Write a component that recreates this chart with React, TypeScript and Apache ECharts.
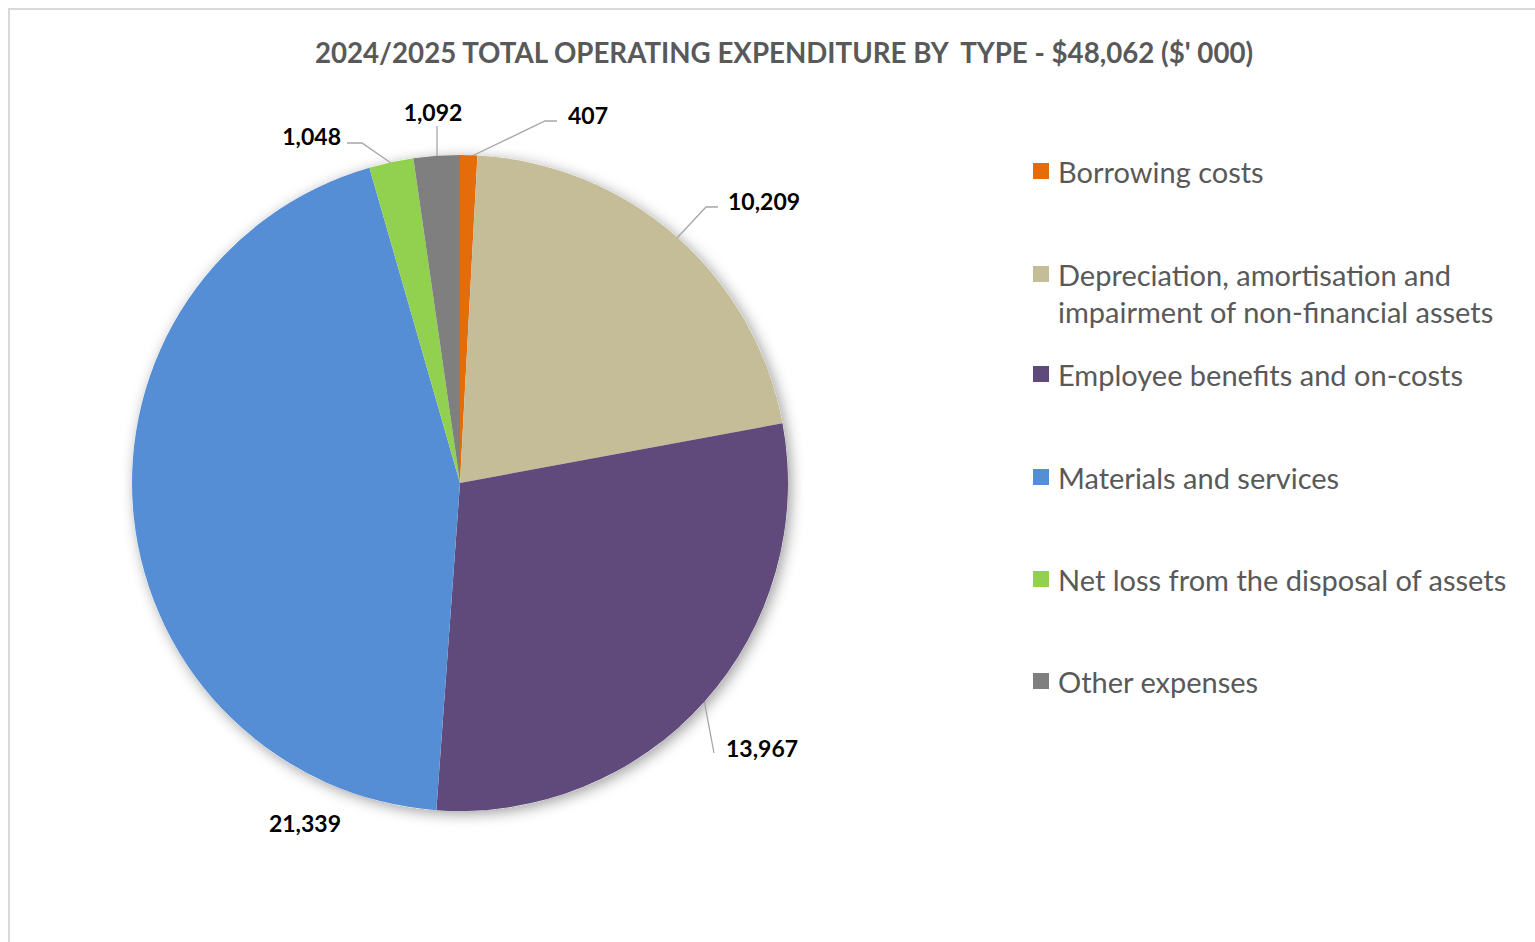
import React, { useEffect, useRef } from "react";
import * as echarts from "echarts";

const categories = [
  "Borrowing costs",
  "Depreciation, amortisation and impairment of non-financial assets",
  "Employee benefits and on-costs",
  "Materials and services",
  "Net loss from the disposal of assets",
  "Other expenses",
];
const legendLabels = [
  "Borrowing costs",
  "Depreciation, amortisation and\nimpairment of non-financial assets",
  "Employee benefits and on-costs",
  "Materials and services",
  "Net loss from the disposal of assets",
  "Other expenses",
];
const values = [407, 10209, 13967, 21339, 1048, 1092];
const colors = ["#E46C0A", "#C4BD97", "#604A7B", "#558ED5", "#92D050", "#7F7F7F"];
const titleText = "2024/2025 TOTAL OPERATING EXPENDITURE BY  TYPE - $48,062 ($' 000)";

// label layout (pixel positions of labels and leader lines)
const labelPos: [number, number, string][] = [
  [568, 115, "left"],
  [728, 201, "left"],
  [726, 748, "left"],
  [341, 823, "right"],
  [341, 136, "right"],
  [433, 112, "center"],
];
const linePts: number[][][] = [
  [[470, 157], [545, 121], [557, 121]],
  [[677, 238], [706, 207], [718, 207]],
  [[704, 700], [714, 753], [714, 753]],
  [],
  [[391, 163], [362, 143], [347, 143]],
  [[437, 157], [437, 126], [437, 126]],
];
const legendCenters = [171, 274, 374, 477, 579, 681];

export default function App() {
  const ref = useRef<HTMLDivElement>(null);
  useEffect(() => {
    if (!ref.current) return;
    const chart = echarts.init(ref.current, null, { renderer: "svg" });
    const total = values.reduce((a, b) => a + b, 0);
    const LH = 37;
    const legends = categories.map((name, i) => {
      const twoLine = legendLabels[i].includes("\n");
      return {
        orient: "vertical",
        left: 1033,
        top: twoLine ? legendCenters[i] - 1.5 * LH : legendCenters[i] - LH / 2,
        padding: 0,
        data: [name],
        selectedMode: false,
        icon: "path://M0,0L16,0L16,16L0,16Z M20,16L20,16",
        itemWidth: 20,
        itemHeight: 16,
        itemGap: 0,
        formatter: () => (twoLine ? "\n" + legendLabels[i] : legendLabels[i]),
        textStyle: {
          fontFamily: "Lato",
          fontSize: 29,
          color: "#595959",
          lineHeight: LH,
        },
      };
    });
    chart.setOption({
      animation: false,
      backgroundColor: "#ffffff",
      title: {
        text: titleText,
        left: 779,
        top: 33,
        textAlign: "center",
        textStyle: {
          fontFamily: "Lato",
          fontWeight: "bold",
          fontSize: 27.7,
          color: "#595959",
        },
      },
      legend: legends,
      graphic: [
        {
          type: "rect",
          shape: { x: 9, y: 9, width: 1600, height: 1000 },
          style: { fill: "none", stroke: "#d9d9d9", lineWidth: 2 },
          silent: true,
        },
      ],
      series: [
        {
          type: "pie",
          z: 1,
          silent: true,
          center: [460, 483],
          radius: 328,
          label: { show: false },
          labelLine: { show: false },
          itemStyle: {
            color: "#ffffff",
            shadowBlur: 14,
            shadowOffsetX: 3,
            shadowOffsetY: 3,
            shadowColor: "rgba(0,0,0,0.38)",
          },
          data: [{ value: total, name: "__shadow__" }],
        },
        {
          type: "pie",
          z: 2,
          center: [460, 483],
          radius: 328,
          startAngle: 90,
          clockwise: true,
          avoidLabelOverlap: false,
          data: categories.map((name, i) => ({
            name,
            value: values[i],
            itemStyle: { color: colors[i] },
            labelLine: { show: linePts[i].length > 0 },
          })),
          label: {
            show: true,
            position: "outside",
            formatter: (p: any) => p.value.toLocaleString("en-US"),
            fontFamily: "Lato",
            fontWeight: "bold",
            fontSize: 23,
            color: "#000000",
          },
          labelLine: {
            show: true,
            lineStyle: { color: "#a6a6a6", width: 1.3 },
          },
          labelLayout: (p: any) => {
            const i = p.dataIndex;
            const [x, y, align] = labelPos[i];
            const out: any = { x, y, align, verticalAlign: "middle" };
            if (linePts[i].length) out.labelLinePoints = linePts[i];
            return out;
          },
        },
      ],
    });
    return () => chart.dispose();
  }, []);
  return (
    <div
      ref={ref}
      style={{ position: "fixed", left: 0, top: 0, width: 1535, height: 942 }}
    />
  );
}
